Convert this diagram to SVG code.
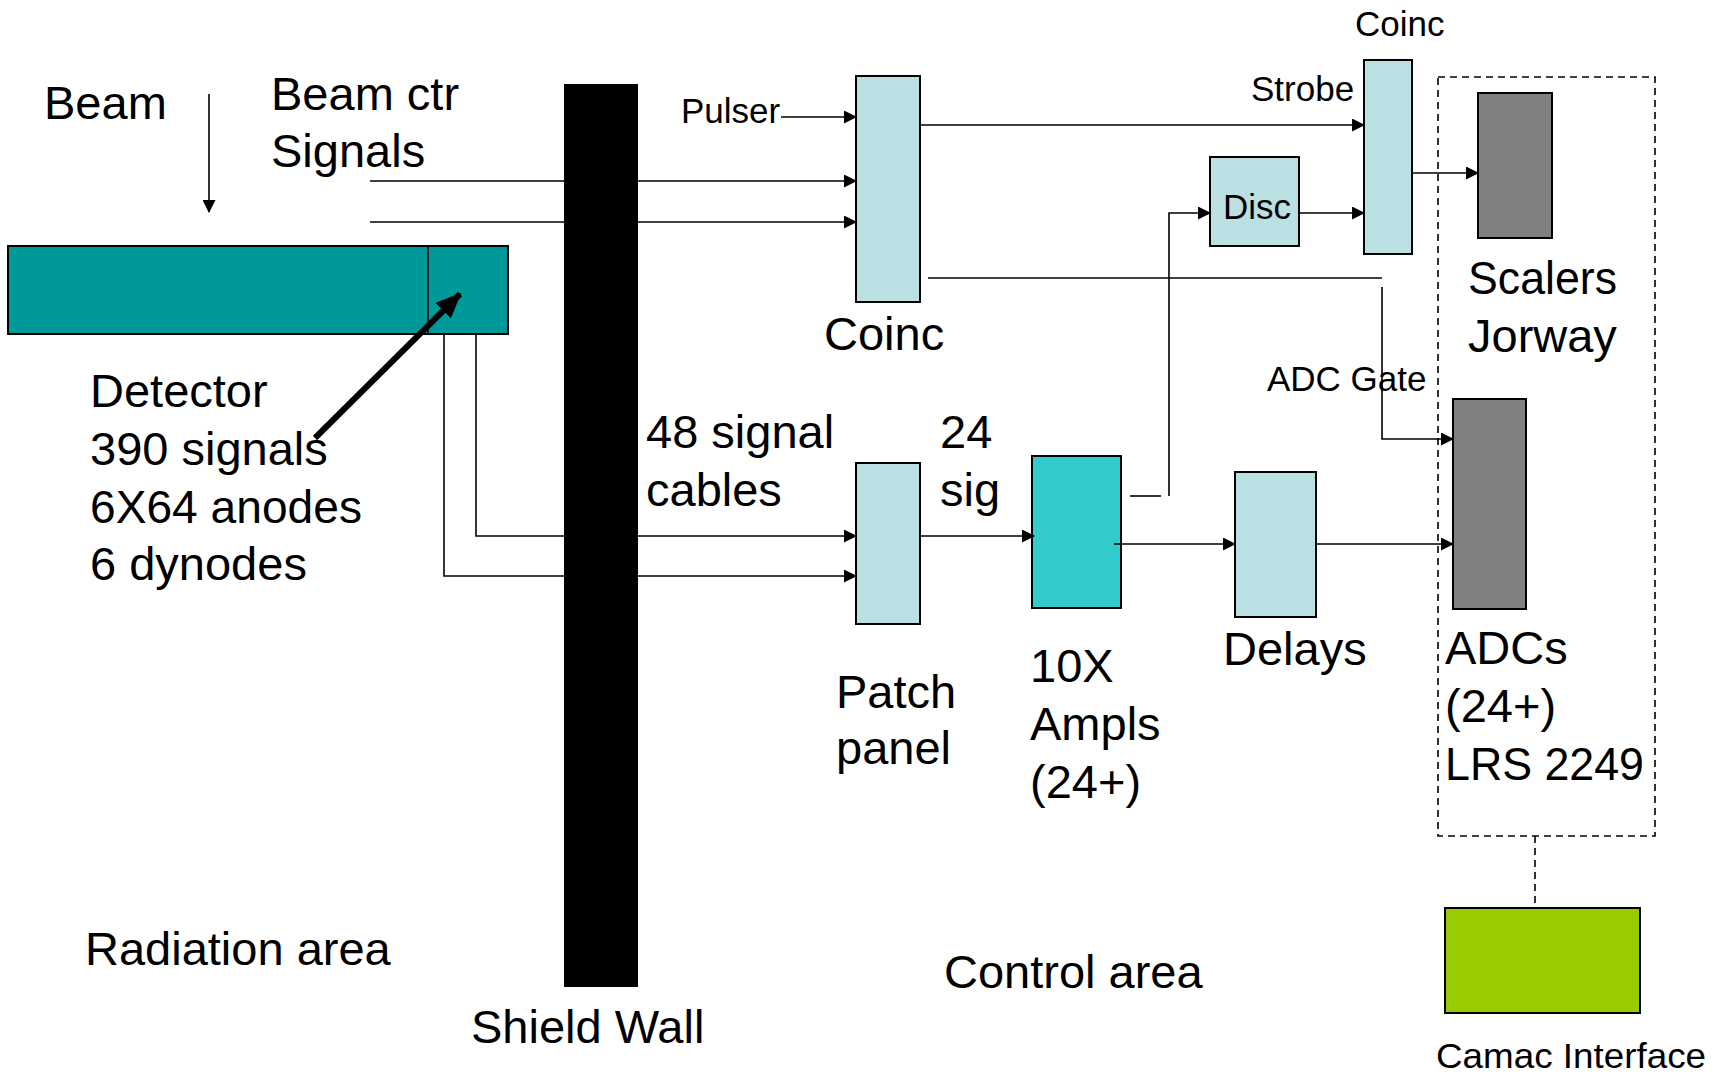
<svg xmlns="http://www.w3.org/2000/svg" width="1725" height="1072" viewBox="0 0 1725 1072">
<defs>
<marker id="ah" markerUnits="userSpaceOnUse" markerWidth="13" markerHeight="13" refX="12" refY="6.5" orient="auto"><path d="M0,0 L13,6.5 L0,13 z" fill="#000"/></marker>
<marker id="big" markerUnits="userSpaceOnUse" markerWidth="26" markerHeight="22" refX="24" refY="11" orient="auto"><path d="M0,0 L26,11 L0,22 z" fill="#000"/></marker>
</defs>
<style>
text{font-family:"Liberation Sans",Arial,sans-serif;fill:#000}
.L{font-size:47px}
.S{font-size:35px}
.box{stroke:#000;stroke-width:2}
.lb{fill:#BBE0E3}
.gr{fill:#808080}
.c{fill:none;stroke:#000;stroke-width:1.6}
.a{marker-end:url(#ah)}
</style>
<rect width="1725" height="1072" fill="#fff"/>

<g id="labels">
<text class="L" x="44" y="119">Beam</text>
<text class="L" x="271" y="110">Beam ctr</text>
<text class="L" x="271" y="167">Signals</text>
<text class="L" x="90" y="407">Detector</text>
<text class="L" x="90" y="465">390 signals</text>
<text class="L" x="90" y="523" textLength="272" lengthAdjust="spacingAndGlyphs">6X64 anodes</text>
<text class="L" x="90" y="580">6 dynodes</text>
<text class="L" x="85" y="965">Radiation area</text>
<text class="L" x="471" y="1043">Shield Wall</text>
<text class="L" x="646" y="448">48 signal</text>
<text class="L" x="646" y="506">cables</text>
<text class="L" x="940" y="448">24</text>
<text class="L" x="940" y="506">sig</text>
<text class="L" x="944" y="988">Control area</text>
</g>

<g id="shield-wall"><rect x="564" y="84" width="74" height="903" fill="#000"/></g>

<g id="detector">
<rect class="box" x="8" y="246" width="500" height="88" fill="#009999"/>
<line x1="428" y1="246" x2="428" y2="334" stroke="#000" stroke-width="1.6"/>
</g>

<g id="coinc1">
<rect class="box lb" x="856" y="76" width="64" height="226"/>
<text class="L" x="824" y="350">Coinc</text>
</g>

<g id="coinc2">
<rect class="box lb" x="1364" y="60" width="48" height="194"/>
<text class="S" x="1355" y="36">Coinc</text>
<text class="S" x="1251" y="101">Strobe</text>
</g>

<g id="disc">
<rect class="box lb" x="1210" y="157" width="89" height="89"/>
<text class="S" x="1223" y="219">Disc</text>
</g>

<g id="patch-panel">
<rect class="box lb" x="856" y="463" width="64" height="161"/>
<text class="L" x="836" y="708">Patch</text>
<text class="L" x="836" y="764">panel</text>
</g>

<g id="ampls">
<rect class="box" x="1032" y="456" width="89" height="152" fill="#33CCCC"/>
<text class="L" x="1030" y="682">10X</text>
<text class="L" x="1030" y="740">Ampls</text>
<text class="L" x="1030" y="798">(24+)</text>
</g>

<g id="delays">
<rect class="box lb" x="1235" y="472" width="81" height="145"/>
<text class="L" x="1223" y="665">Delays</text>
</g>

<g id="crate">
<rect x="1438" y="77" width="217" height="759" fill="none" stroke="#000" stroke-width="1.6" stroke-dasharray="7,5"/>
<line x1="1535" y1="836" x2="1535" y2="906" stroke="#000" stroke-width="1.6" stroke-dasharray="7,5"/>
</g>

<g id="scalers">
<rect class="box gr" x="1478" y="93" width="74" height="145"/>
<text class="L" x="1468" y="294" textLength="149" lengthAdjust="spacingAndGlyphs">Scalers</text>
<text class="L" x="1468" y="352">Jorway</text>
</g>

<g id="adcs">
<rect class="box gr" x="1453" y="399" width="73" height="210"/>
<text class="L" x="1445" y="664">ADCs</text>
<text class="L" x="1445" y="722">(24+)</text>
<text class="L" x="1445" y="780" textLength="199" lengthAdjust="spacingAndGlyphs">LRS 2249</text>
</g>

<g id="camac">
<rect class="box" x="1445" y="908" width="195" height="105" fill="#99CC00"/>
<text class="S" x="1436" y="1068" textLength="270" lengthAdjust="spacingAndGlyphs">Camac Interface</text>
</g>

<g id="connectors">
<line class="c a" x1="209" y1="94" x2="209" y2="212"/>
<line class="c a" x1="370" y1="181" x2="856" y2="181"/>
<line class="c a" x1="370" y1="222" x2="856" y2="222"/>
<text class="S" x="681" y="123">Pulser</text>
<line class="c a" x1="781" y1="117" x2="856" y2="117"/>
<line class="c a" x1="920" y1="125" x2="1364" y2="125" stroke-width="2.2"/>
<line class="c a" x1="1299" y1="213" x2="1364" y2="213"/>
<line class="c a" x1="1412" y1="173" x2="1478" y2="173"/>
<line class="c" x1="1130" y1="496" x2="1161" y2="496"/>
<polyline class="c a" points="1169,496 1169,213 1210,213"/>
<line class="c" x1="928" y1="278" x2="1382" y2="278"/>
<polyline class="c a" points="1382,287 1382,439 1453,439"/>
<text class="S" x="1267" y="391">ADC Gate</text>
<polyline class="c a" points="476,334 476,536 856,536"/>
<polyline class="c a" points="444,334 444,576 856,576"/>
<line class="c a" x1="920" y1="536" x2="1034" y2="536"/>
<line class="c a" x1="1114" y1="544" x2="1235" y2="544"/>
<line class="c a" x1="1316" y1="544" x2="1453" y2="544"/>
<line x1="315" y1="438" x2="460" y2="294" stroke="#000" stroke-width="6" marker-end="url(#big)"/>
</g>
</svg>
